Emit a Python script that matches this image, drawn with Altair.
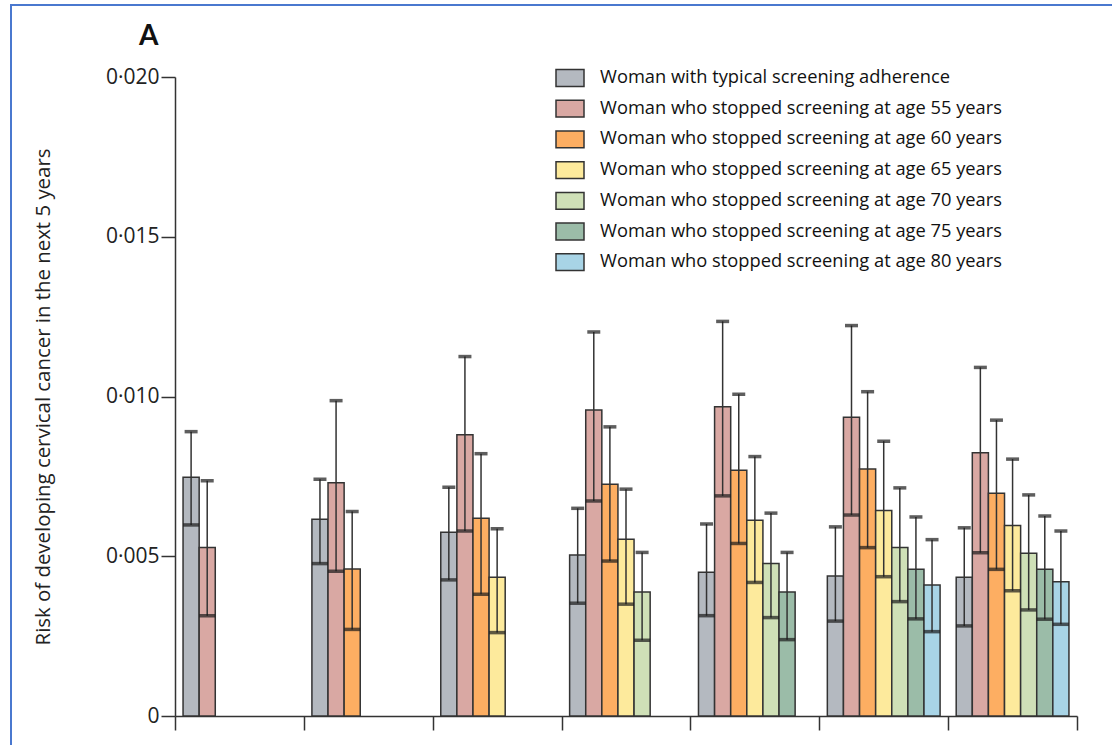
import altair as alt
import pandas as pd

groups = ["Group 1", "Group 2", "Group 3", "Group 4", "Group 5", "Group 6", "Group 7"]
series = [
    "Woman with typical screening adherence",
    "Woman who stopped screening at age 55 years",
    "Woman who stopped screening at age 60 years",
    "Woman who stopped screening at age 65 years",
    "Woman who stopped screening at age 70 years",
    "Woman who stopped screening at age 75 years",
    "Woman who stopped screening at age 80 years",
]
colors = ["#b4b9c0", "#d9a8a3", "#fdae62", "#fdea9c", "#cfe0b7", "#9bbca8", "#a8d4e6"]

typical = [0.00747, 0.00616, 0.00575, 0.00504, 0.00450, 0.00438, 0.00434]
typical_lo = [0.00598, 0.00477, 0.00426, 0.00353, 0.00314, 0.00297, 0.00282]
typical_hi = [0.00890, 0.00741, 0.00716, 0.00650, 0.00601, 0.00592, 0.00589]

s55 = [0.00527, 0.00730, 0.00880, 0.00958, 0.00968, 0.00935, 0.00824]
s55_lo = [0.00314, 0.00453, 0.00579, 0.00673, 0.00689, 0.00629, 0.00511]
s55_hi = [0.00736, 0.00987, 0.01125, 0.01202, 0.01235, 0.01222, 0.01091]

s60 = [None, 0.00460, 0.00619, 0.00725, 0.00769, 0.00773, 0.00697]
s60_lo = [None, 0.00271, 0.00381, 0.00485, 0.00540, 0.00527, 0.00459]
s60_hi = [None, 0.00640, 0.00821, 0.00905, 0.01007, 0.01015, 0.00926]

s65 = [None, None, 0.00434, 0.00553, 0.00613, 0.00643, 0.00596]
s65_lo = [None, None, 0.00261, 0.00350, 0.00418, 0.00436, 0.00392]
s65_hi = [None, None, 0.00586, 0.00710, 0.00812, 0.00860, 0.00804]

s70 = [None, None, None, 0.00388, 0.00477, 0.00527, 0.00509]
s70_lo = [None, None, None, 0.00237, 0.00308, 0.00358, 0.00332]
s70_hi = [None, None, None, 0.00512, 0.00635, 0.00714, 0.00692]

s75 = [None, None, None, None, 0.00388, 0.00459, 0.00459]
s75_lo = [None, None, None, None, 0.00239, 0.00304, 0.00303]
s75_hi = [None, None, None, None, 0.00512, 0.00623, 0.00626]

s80 = [None, None, None, None, None, 0.00410, 0.00420]
s80_lo = [None, None, None, None, None, 0.00264, 0.00287]
s80_hi = [None, None, None, None, None, 0.00552, 0.00579]

y_ticks = [0, 0.005, 0.010, 0.015, 0.020]
panel_label = ["A"]

all_vals = [
    (typical, typical_lo, typical_hi),
    (s55, s55_lo, s55_hi),
    (s60, s60_lo, s60_hi),
    (s65, s65_lo, s65_hi),
    (s70, s70_lo, s70_hi),
    (s75, s75_lo, s75_hi),
    (s80, s80_lo, s80_hi),
]

rows = []
for name, (v, lo, hi) in zip(series, all_vals):
    for g, a, b, c in zip(groups, v, lo, hi):
        if a is not None:
            rows.append({"group": g, "series": name, "value": a, "lo": b, "hi": c})
df = pd.DataFrame(rows)

FONT = "Open Sans"
INK = "#333333"

x_enc = alt.X("group:N", sort=groups, scale=alt.Scale(paddingInner=0, paddingOuter=0), axis=None)
xo_enc = alt.XOffset("series:N", sort=series,
                     scale=alt.Scale(domain=series, paddingInner=0, paddingOuter=0.5))

y_axis = alt.Axis(
    values=y_ticks,
    labelExpr="datum.value == 0 ? '0' : replace(format(datum.value, '.3f'), '.', '·')",
    tickSize=14, labelPadding=2, grid=False,
    domainColor=INK, tickColor=INK, domainWidth=1.5, tickWidth=1.5,
    labelFont=FONT, labelFontSize=21, labelColor="#222222",
    title="Risk of developing cervical cancer in the next 5 years",
    titleFont=FONT, titleFontSize=20.4, titleFontWeight="normal", titleColor="#222222",
    titlePadding=52,
)

base = alt.Chart(df)

bars = base.mark_bar(stroke=INK, strokeWidth=1.5).encode(
    x=x_enc,
    xOffset=xo_enc,
    y=alt.Y("value:Q", scale=alt.Scale(domain=[0, 0.02], nice=False), axis=y_axis),
    color=alt.Color(
        "series:N", sort=series,
        scale=alt.Scale(domain=series, range=colors),
        legend=alt.Legend(
            title=None, orient="none", legendX=380, legendY=-14, padding=0,
            symbolType="M-1,-0.6H1V0.6H-1Z", symbolSize=784,
            symbolStrokeColor=INK, symbolStrokeWidth=1.5, symbolOpacity=1,
            labelFont=FONT, labelFontSize=18.3, labelColor="#111111",
            labelOffset=15, rowPadding=3.7, labelLimit=600,
        ),
    ),
)

err = base.mark_rule(color=INK, strokeWidth=1.5).encode(
    x=x_enc, xOffset=xo_enc, y="lo:Q", y2="hi:Q"
)
cap_hi = base.mark_tick(color="#1a1a1a", thickness=3.5, size=13).encode(
    x=x_enc, xOffset=xo_enc, y="hi:Q"
)
cap_lo = base.mark_tick(color="#1a1a1a", thickness=3.5, size=16).encode(
    x=x_enc, xOffset=xo_enc, y="lo:Q"
)

axis_df = pd.DataFrame({"pos": [0, len(groups)]})
x_axis_layer = alt.Chart(axis_df).mark_point(opacity=0).encode(
    x=alt.X("pos:Q", scale=alt.Scale(domain=[0, len(groups)], nice=False, zero=False),
            axis=alt.Axis(values=list(range(len(groups) + 1)), labels=False, title=None,
                          tickSize=14, grid=False, domainColor=INK, tickColor=INK,
                          domainWidth=1.5, tickWidth=1.5))
)

frame_top = alt.Chart(axis_df).mark_rule(color="#4a78cf", strokeWidth=2).encode(
    x=alt.value(-165), x2=alt.value(937), y=alt.value(-72)
)
frame_left = alt.Chart(axis_df).mark_rule(color="#4a78cf", strokeWidth=2).encode(
    x=alt.value(-164), y=alt.value(-73), y2=alt.value(668)
)

label_df = pd.DataFrame({"label": panel_label})
title_mark = alt.Chart(label_df).mark_text(
    align="left", baseline="alphabetic", font="Lato", fontSize=28, fontWeight="bold",
    color="#111111"
).encode(text="label:N", x=alt.value(-36), y=alt.value(-32))

chart = alt.layer(x_axis_layer, bars, err, cap_hi, cap_lo, frame_top, frame_left,
                  title_mark).resolve_scale(
    x="independent"
).properties(
    width=902, height=639,
    autosize=alt.AutoSizeParams(type="none"),
    padding={"left": 175, "top": 77, "right": 35, "bottom": 29},
    background="white",
).configure_view(strokeWidth=0, stroke=None)

chart.save("out.html", embed_options={"renderer": "svg", "actions": False})
